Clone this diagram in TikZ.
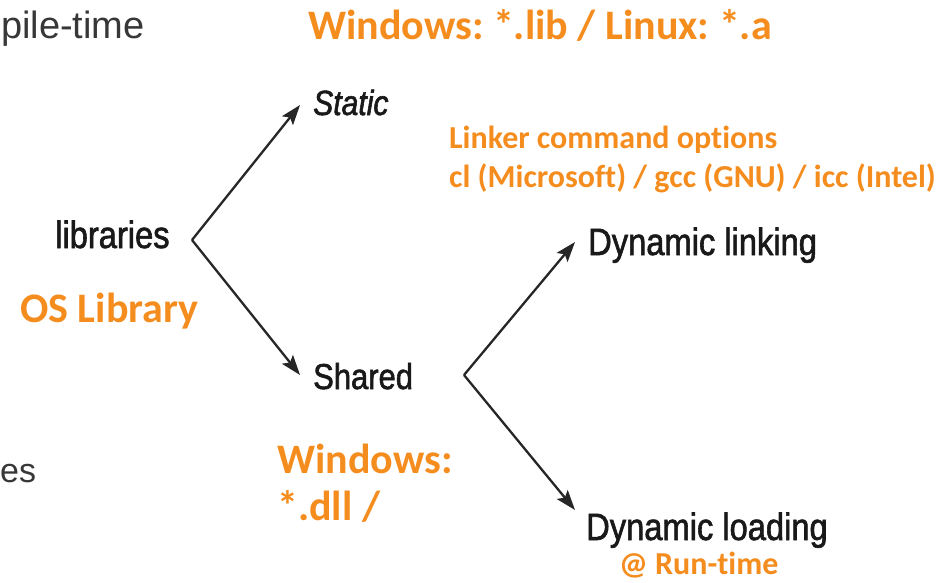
\documentclass[tikz,border=0pt]{standalone}
\usepackage{fontspec}
\usetikzlibrary{arrows.meta}
\newfontfamily\orfont{Carlito}[BoldFont={Carlito Bold},Ligatures=NoCommon]
\newfontfamily\blkfont{Liberation Sans}[FakeStretch=0.86,FakeBold=1.6]
\newfontfamily\grfont{Liberation Sans}
\definecolor{orng}{RGB}{245,140,30}
\definecolor{grtxt}{RGB}{55,55,55}
\tikzset{
  otext/.style={anchor=base west, inner sep=0pt, text=orng, font=\orfont\bfseries\fontsize{42}{46}\selectfont},
  osmall/.style={anchor=base west, inner sep=0pt, text=orng, font=\orfont\bfseries\fontsize{32}{36}\selectfont},
  btext/.style={anchor=base west, inner sep=0pt, text=black!90, font=\blkfont\fontsize{38}{42}\selectfont},
  gtext/.style={anchor=base west, inner sep=0pt, text=grtxt, font=\grfont\fontsize{38}{42}\selectfont},
  arr/.style={draw=black!85, line width=2.3pt, -{Stealth[length=20pt,width=14pt,inset=4pt]}}
}
\begin{document}
\frenchspacing
\begin{tikzpicture}[x=1pt,y=-1pt]
\useasboundingbox (0,0) rectangle (941,582);
% cropped grey texts
\node[gtext] (pt) at (1,38) {pile-time};
\node[gtext, font=\grfont\fontsize{34}{38}\selectfont] (es) at (0,482) {es};
% black labels
\node[btext] (lib) at (55,248) {libraries};
\node[btext, font=\blkfont\itshape\fontsize{35}{38}\selectfont] (stat) at (313,115) {Static};
\node[btext, font=\blkfont\fontsize{36}{40}\selectfont] (shr) at (313,389) {Shared};
\node[btext] (dlink) at (588,255) {Dynamic linking};
\node[btext] (dload) at (586,540) {Dynamic loading};
% orange labels
\node[otext] (win) at (308,39) {Windows: *.lib / Linux: *.a};
\node[otext] (os) at (20,322) {OS Library};
\node[otext] (wdll) at (277,473) {Windows:};
\node[otext] (dll) at (277,520) {*.dll /};
\node[osmall] (lk1) at (449,148) {Linker command options};
\node[osmall] (lk2) at (449,187) {cl (Microsoft) / gcc (GNU) / icc (Intel)};
\node[osmall] (rt) at (619,574) {@ Run-time};
% branch points and arrow tips
\coordinate (a1) at (192,240);
\coordinate (t1) at (300,105);
\coordinate (t2) at (300,375);
\coordinate (a2) at (464,375);
\coordinate (t3) at (575,242);
\coordinate (t4) at (575,510);
\draw[arr] (a1) -- (t1);
\draw[arr] (a1) -- (t2);
\draw[arr] (a2) -- (t3);
\draw[arr] (a2) -- (t4);
\end{tikzpicture}
\end{document}
